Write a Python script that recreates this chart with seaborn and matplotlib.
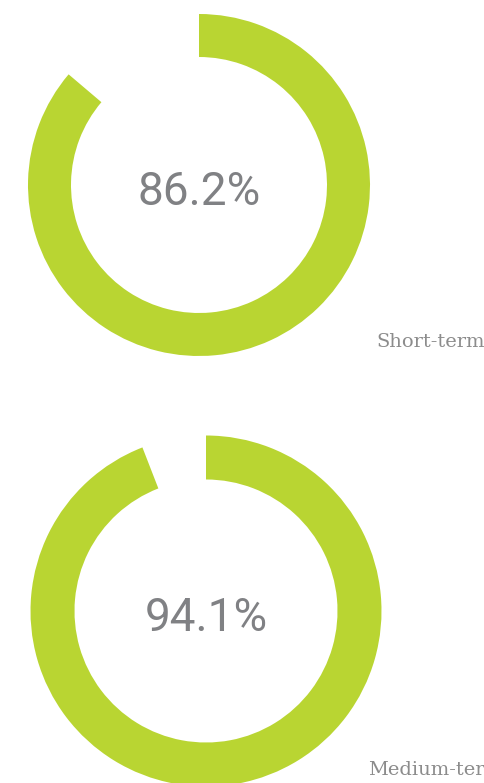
import matplotlib
matplotlib.use('Agg')
import matplotlib.pyplot as plt
import seaborn as sns

# Dados
terms = ['Short-term', 'Medium-term']
rates = [86.2, 94.1]
labels = ['86.2%', '94.1%']

green = '#b9d532'
grey_num = '#808184'
grey_lab = '#8c8c8c'

sns.set_theme(style='white')
plt.rcParams['font.family'] = ['Roboto', 'DejaVu Sans']

W, H = 485, 783
fig = plt.figure(figsize=(W / 100, H / 100), dpi=100)
fig.patch.set_facecolor('white')

# centro (x, y) em pixels, raio externo, espessura do anel
layout = [((199, 185), 171, 43), ((206, 611), 175.5, 44)]

for term, rate, lab, (ctr, r, w) in zip(terms, rates, labels, layout):
    cx, cy = ctr
    ax = fig.add_axes([(cx - r) / W, (H - cy - r) / H, 2 * r / W, 2 * r / H])
    ax.pie([rate, 100 - rate], colors=[green, 'none'], startangle=90,
           counterclock=False, radius=1,
           wedgeprops=dict(width=w / r, linewidth=0))
    ax.set_xlim(-1, 1)
    ax.set_ylim(-1, 1)
    ax.set_aspect('equal')
    ax.axis('off')
    ax.text(0.0, -0.04, lab, ha='center', va='center', fontsize=33,
            color=grey_num, fontfamily=['Roboto', 'DejaVu Sans'])

# rótulos à direita (o segundo fica cortado na borda, como no original)
fig.text(376 / W, 1 - 347 / H, terms[0], ha='left', va='baseline',
         fontsize=14, color=grey_lab, fontfamily=['DejaVu Serif'])
fig.text(368 / W, 1 - 775 / H, terms[1], ha='left', va='baseline',
         fontsize=14, color=grey_lab, fontfamily=['DejaVu Serif'])

fig.savefig('out.png', dpi=100, facecolor='white')
